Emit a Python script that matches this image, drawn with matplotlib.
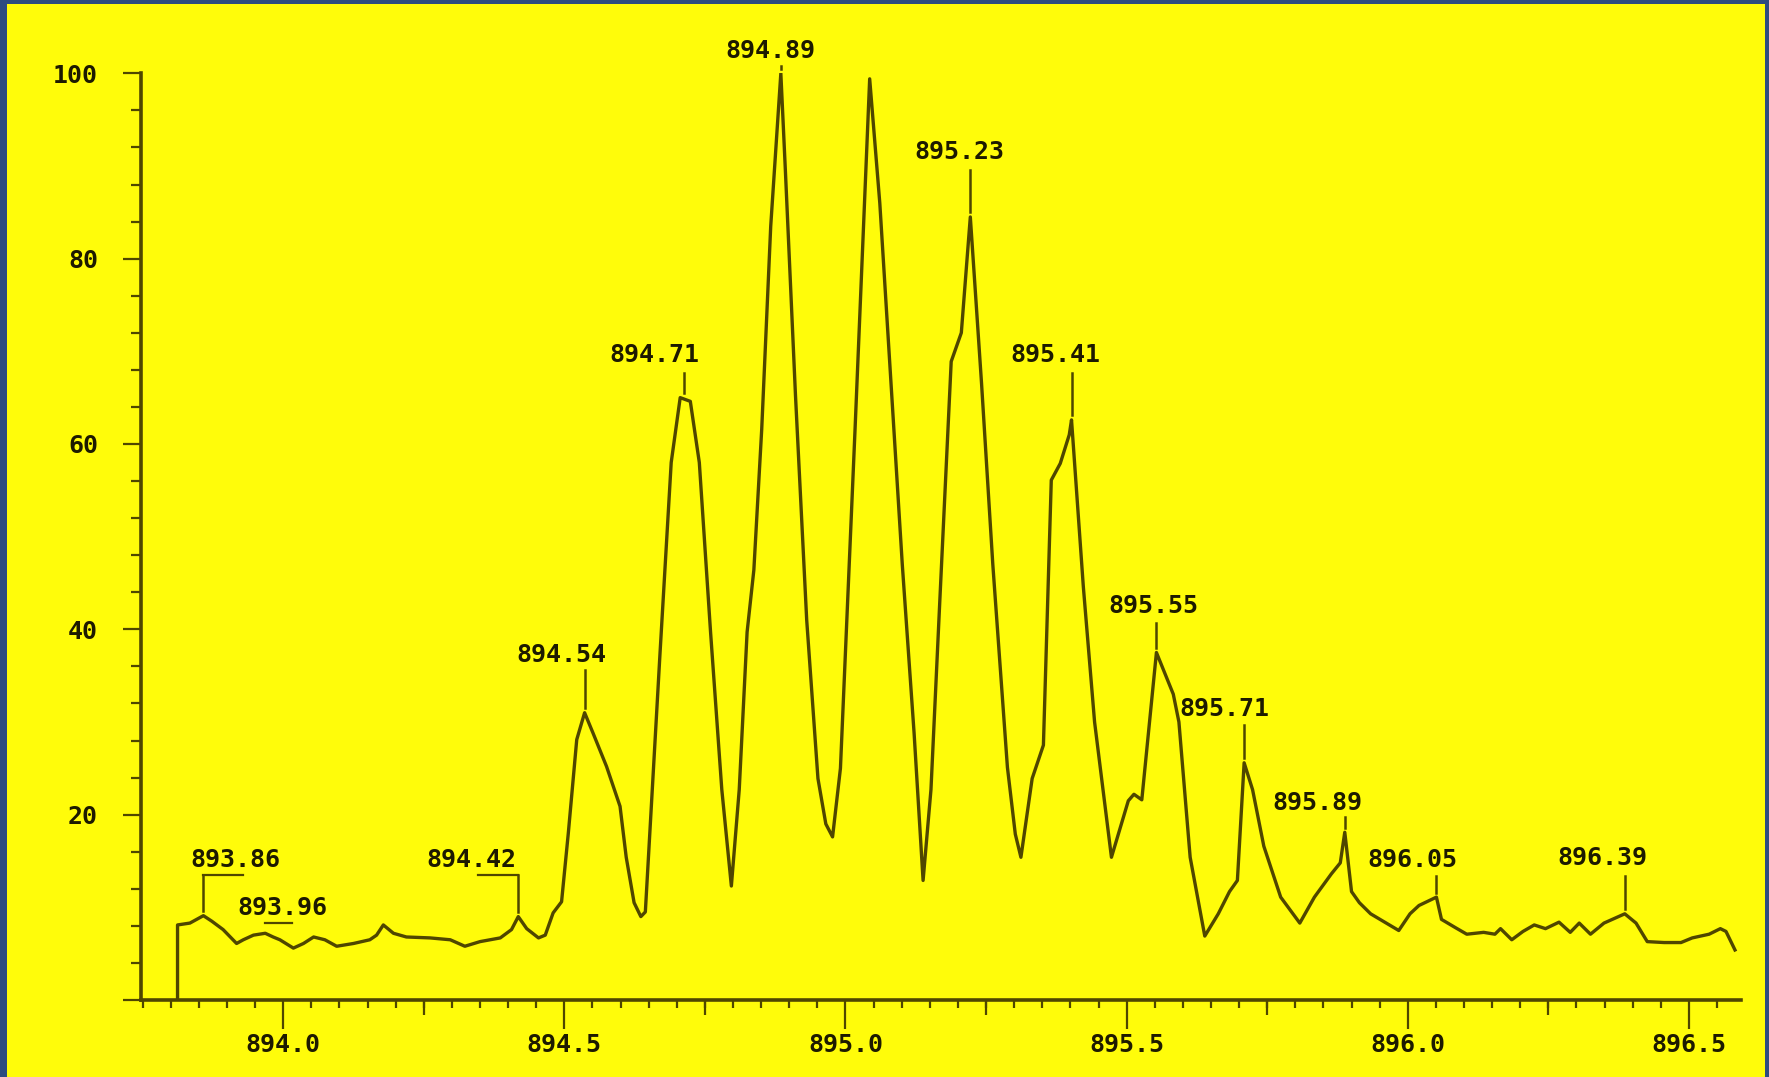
import matplotlib
matplotlib.use("Agg")
import matplotlib.pyplot as plt
from matplotlib.patches import Rectangle
from matplotlib.ticker import MultipleLocator, FuncFormatter, FixedLocator

# ---------------- data ----------------
spec_mz = [893.812, 893.812, 893.834, 893.858, 893.873, 893.893, 893.917, 893.929, 893.947,
           893.968, 893.982, 893.994, 894.018, 894.036, 894.054, 894.074, 894.095, 894.125,
           894.154, 894.166, 894.178, 894.196, 894.219, 894.261, 894.297, 894.323, 894.350,
           894.386, 894.406, 894.418, 894.433, 894.454, 894.466, 894.480, 894.495, 894.507,
           894.522, 894.536, 894.551, 894.575, 894.599, 894.610, 894.624, 894.636, 894.644,
           894.670, 894.690, 894.706, 894.724, 894.740, 894.760, 894.780, 894.797, 894.811,
           894.825, 894.837, 894.851, 894.867, 894.885, 894.893, 894.911, 894.931, 894.951,
           894.965, 894.977, 894.991, 895.005, 895.017, 895.043, 895.061, 895.081, 895.101,
           895.122, 895.138, 895.152, 895.168, 895.188, 895.206, 895.222, 895.242, 895.262,
           895.288, 895.302, 895.312, 895.332, 895.352, 895.366, 895.382, 895.398, 895.402,
           895.423, 895.443, 895.473, 895.503, 895.513, 895.527, 895.553, 895.583, 895.593,
           895.613, 895.639, 895.663, 895.683, 895.697, 895.709, 895.724, 895.744, 895.774,
           895.808, 895.834, 895.864, 895.880, 895.888, 895.900, 895.914, 895.934, 895.984,
           896.004, 896.020, 896.051, 896.060, 896.085, 896.105, 896.135, 896.155, 896.165,
           896.185, 896.205, 896.225, 896.245, 896.269, 896.289, 896.305, 896.325, 896.349,
           896.386, 896.406, 896.426, 896.456, 896.486, 896.506, 896.536, 896.556, 896.566,
           896.582]
spec_int = [0.0, 8.1, 8.3, 9.1, 8.5, 7.6, 6.1, 6.5, 7.0,
            7.2, 6.8, 6.5, 5.6, 6.1, 6.8, 6.5, 5.8, 6.1,
            6.5, 7.0, 8.1, 7.2, 6.8, 6.7, 6.5, 5.8, 6.3,
            6.7, 7.6, 9.0, 7.7, 6.7, 7.0, 9.4, 10.6, 18.0,
            28.1, 31.0, 28.8, 25.2, 20.9, 15.4, 10.5, 9.0, 9.5,
            37.3, 58.0, 65.0, 64.6, 58.0, 39.7, 22.7, 12.3, 22.7,
            39.7, 46.4, 61.6, 83.5, 100.0, 89.6, 65.3, 41.0, 23.9,
            19.0, 17.6, 25.0, 44.6, 61.6, 99.4, 86.0, 66.5, 47.0,
            28.8, 12.9, 22.7, 43.4, 68.9, 72.0, 84.5, 66.5, 47.0,
            25.1, 17.9, 15.4, 23.9, 27.5, 56.1, 57.9, 61.0, 62.6,
            44.6, 30.0, 15.4, 21.5, 22.2, 21.6, 37.5, 33.0, 30.0,
            15.4, 6.9, 9.3, 11.7, 12.9, 25.6, 22.7, 16.6, 11.1,
            8.3, 11.1, 13.6, 14.8, 18.1, 11.7, 10.5, 9.3, 7.5,
            9.3, 10.2, 11.1, 8.7, 7.8, 7.1, 7.3, 7.1, 7.7,
            6.5, 7.4, 8.1, 7.7, 8.4, 7.3, 8.3, 7.1, 8.3,
            9.3, 8.3, 6.3, 6.2, 6.2, 6.7, 7.1, 7.7, 7.4,
            5.4]

peak_labels = ['893.86', '893.96', '894.42', '894.54', '894.71', '894.89', '895.23',
               '895.41', '895.55', '895.71', '895.89', '896.05', '896.39']
peak_mz = [893.858, 893.968, 894.418, 894.536, 894.712, 894.885, 895.222,
           895.402, 895.553, 895.709, 895.888, 896.051, 896.386]
peak_int = [9.1, 7.2, 9.0, 31.0, 65.0, 100.0, 84.5, 62.6, 37.5, 25.6, 18.1, 11.1, 9.3]

y_ticks = [0, 20, 40, 60, 80, 100]

# ---------------- layout / style ----------------
label_x = [893.914, 893.999, 894.335, 894.494, 894.660, 894.867, 895.202,
           895.374, 895.547, 895.673, 895.840, 896.008, 896.346]
label_y = [15.1, 9.9, 15.1, 37.2, 69.6, 102.4, 91.5, 69.6, 42.5, 31.4, 21.3, 15.1, 15.3]
leader_top = [13.5, 8.3, 13.5, 35.6, 67.7, 100.8, 89.6, 67.7, 40.7, 29.7, 19.7, 13.4, 13.4]
hook_x = [893.929, 894.015, 894.347, None, None, None, None, None, None, None, None, None, None]

W, H = 1769, 1077
YELLOW = '#fffc0a'
BLUE = '#2d4c80'
LINE = '#4f4600'
TEXT = '#1d1a00'
FONT = dict(family='DejaVu Sans Mono', weight='bold', size=18)

fig = plt.figure(figsize=(W / 100, H / 100), dpi=100)
fig.patch.set_facecolor(BLUE)
fig.add_artist(Rectangle((7 / W, 0), (W - 11) / W, (H - 4) / H, transform=fig.transFigure,
                         facecolor=YELLOW, edgecolor='none', zorder=0))

ax = fig.add_axes([141 / W, 1 - 1000 / H, (1740.6 - 141) / W, (1000 - 73.3) / H])
ax.set_facecolor('none')
ax.set_xlim(893.747, 896.592)
ax.set_ylim(0, 100)

for s in ['top', 'right']:
    ax.spines[s].set_visible(False)
for s in ['left', 'bottom']:
    ax.spines[s].set_color(LINE)
    ax.spines[s].set_linewidth(2.6)

ax.plot(spec_mz, spec_int, color=LINE, lw=2.4, solid_joinstyle='round')

# x ticks
ax.xaxis.set_major_locator(MultipleLocator(0.5))
ax.xaxis.set_minor_locator(MultipleLocator(0.05))
ax.xaxis.set_major_formatter(FuncFormatter(lambda v, p: f"{v:.1f}"))
ax.tick_params(axis='x', which='major', direction='out', length=21, width=1.6,
               color=LINE, pad=3, labelcolor=TEXT)
ax.tick_params(axis='x', which='minor', direction='out', length=6, width=1.6, color=LINE)

sec = ax.secondary_xaxis('bottom')
sec.xaxis.set_major_locator(FixedLocator([894.25, 894.75, 895.25, 895.75, 896.25]))
sec.tick_params(axis='x', direction='out', length=11, width=1.6, color=LINE, labelbottom=False)
sec.spines['bottom'].set_visible(False)

# y ticks
ax.yaxis.set_major_locator(FixedLocator(y_ticks))
ax.yaxis.set_minor_locator(MultipleLocator(4))
ax.yaxis.set_major_formatter(FuncFormatter(lambda v, p: '' if v == 0 else f"{v:.0f}"))
ax.tick_params(axis='y', which='major', direction='out', length=13, width=1.6,
               color=LINE, pad=18, labelcolor=TEXT)
ax.tick_params(axis='y', which='minor', direction='out', length=7, width=1.6, color=LINE)

for lab in ax.get_xticklabels() + ax.get_yticklabels():
    lab.set_fontfamily(FONT['family'])
    lab.set_fontweight(FONT['weight'])
    lab.set_fontsize(FONT['size'])

# peak annotations
for i, txt in enumerate(peak_labels):
    ax.text(label_x[i], label_y[i], txt, ha='center', va='center', color=TEXT,
            clip_on=False, **FONT)
    bottom = peak_int[i] + 0.5
    top = leader_top[i]
    if hook_x[i] is not None and i == 1:
        ax.plot([peak_mz[i], hook_x[i]], [top, top], color=LINE, lw=1.6, clip_on=False)
        continue
    ax.plot([peak_mz[i], peak_mz[i]], [bottom, top], color=LINE, lw=1.8, clip_on=False)
    if hook_x[i] is not None:
        ax.plot([peak_mz[i], hook_x[i]], [top, top], color=LINE, lw=1.6, clip_on=False)

fig.savefig('out.png', dpi=100, facecolor=fig.get_facecolor())
